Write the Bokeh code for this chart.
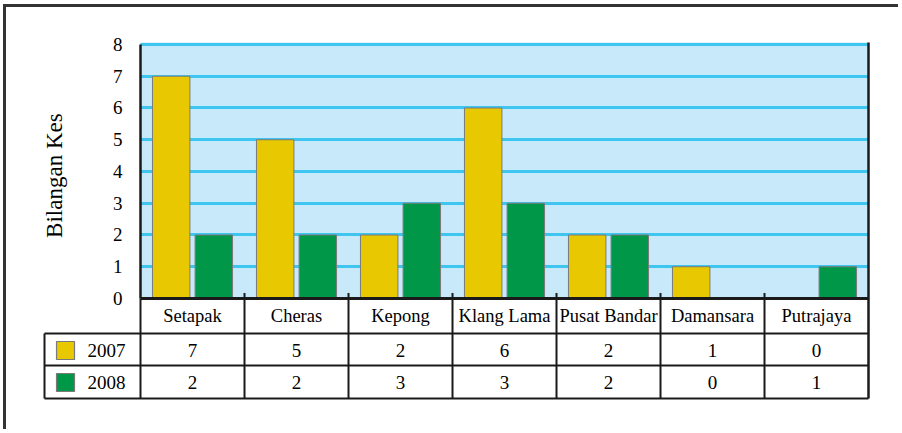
import math
from bokeh.plotting import figure
from bokeh.models import ColumnDataSource, Range1d, FixedTicker, BoxAnnotation
from bokeh.transform import dodge
from bokeh.core.properties import value
from bokeh.embed import file_html
from bokeh.resources import INLINE

# ---- data ----
categories = ["Setapak", "Cheras", "Kepong", "Klang Lama", "Pusat Bandar", "Damansara", "Putrajaya"]
years = ["2007", "2008"]
v2007 = [7, 5, 2, 6, 2, 1, 0]
v2008 = [2, 2, 3, 3, 2, 0, 1]
y_ticks = [0, 1, 2, 3, 4, 5, 6, 7, 8]
y_label = "Bilangan Kes"

YELLOW = "#E8C800"
GREEN = "#009848"
BG = "#C8E9F9"
GRID = "#3FC6F0"
FONT = "Liberation Serif"
LINE = "#1a1a1a"
OUTLINE = "#7a7a7a"

n = len(categories)
ymax = y_ticks[-1]
xc = [i + 0.5 for i in range(n)]
src = ColumnDataSource(dict(cat=categories, xc=xc, v2007=v2007, v2008=v2008))

# table rows (in y data units below the zero line)
ROW_CAT, ROW_07, ROW_08 = -0.567, -1.638, -2.661
LINE_A, LINE_B, LINE_C = -1.102, -2.110, -3.150
LEFT = -0.923
TOP = ymax + 0.063

p = figure(width=895, height=425,
           x_range=Range1d(-0.9423, n + 0.0192),
           y_range=Range1d(-3.213, 8.441),
           toolbar_location=None, output_backend="svg",
           min_border_left=36, min_border_right=31,
           min_border_top=23, min_border_bottom=32,
           styles={"border-left": "3px solid #333333",
                   "border-top": "3px solid #333333",
                   "margin-left": "3px", "margin-top": "4px"})
p.background_fill_color = "white"
p.border_fill_color = "white"
p.outline_line_color = None
p.xaxis.visible = False
p.xgrid.visible = False

# blue plotting area (drawn below the grid)
p.add_layout(BoxAnnotation(left=0, right=n, bottom=0, top=TOP,
                           fill_color=BG, fill_alpha=1, line_color=None, level="image"))

# horizontal grid restricted to the plotting area
g = p.ygrid[0]
g.ticker = FixedTicker(ticks=y_ticks[1:])
g.grid_line_color = GRID
g.grid_line_width = 3
g.level = "underlay"
if "cross_bounds" in g.properties():
    g.bounds = (y_ticks[1], ymax)
    g.cross_bounds = (0, n)
else:
    g.visible = False
    p.segment(x0=[0] * (len(y_ticks) - 1), x1=[n] * (len(y_ticks) - 1),
              y0=y_ticks[1:], y1=y_ticks[1:], line_color=GRID, line_width=3)

# y axis pinned at x = 0
ya = p.yaxis[0]
ya.fixed_location = 0
ya.ticker = FixedTicker(ticks=y_ticks)
ya.bounds = (0, ymax)
ya.major_tick_line_color = None
ya.minor_tick_line_color = None
ya.axis_line_color = LINE
ya.axis_line_width = 2.5
ya.major_label_standoff = 12
ya.major_label_text_font = FONT
ya.major_label_text_font_size = "19px"
ya.major_label_text_color = "black"

# axis title
p.text(x=[-0.827], y=[3.87], text=[y_label], angle=math.pi / 2,
       text_font=value(FONT), text_font_size="23px", text_align="center",
       text_baseline="middle", text_color="black")

# bars
p.vbar(x=dodge("xc", -0.205), top="v2007", width=0.36, source=src,
       fill_color=YELLOW, line_color=OUTLINE, line_width=1)
p.vbar(x=dodge("xc", 0.205), top="v2008", width=0.36, source=src,
       fill_color=GREEN, line_color=OUTLINE, line_width=1)

# table lines
p.segment(x0=[0], x1=[n], y0=[0], y1=[0], line_color=LINE, line_width=3)          # zero line
p.segment(x0=[n], x1=[n], y0=[LINE_C], y1=[TOP], line_color=LINE, line_width=2.5)
p.segment(x0=[0], x1=[0], y0=[LINE_C], y1=[0], line_color=LINE, line_width=2)
p.segment(x0=list(range(1, n)), x1=list(range(1, n)), y0=[LINE_C] * (n - 1), y1=[0.17] * (n - 1),
          line_color=LINE, line_width=2)
p.segment(x0=[LEFT] * 3, x1=[n] * 3, y0=[LINE_A, LINE_B, LINE_C], y1=[LINE_A, LINE_B, LINE_C],
          line_color=LINE, line_width=2)
p.segment(x0=[LEFT], x1=[LEFT], y0=[LINE_A], y1=[LINE_C], line_color=LINE, line_width=2)

# table texts
p.text(x=xc, y=[ROW_CAT] * n, text=categories, text_font=value(FONT),
       text_font_size="18.5px", text_align="center", text_baseline="middle", text_color="black")
p.text(x=xc, y=[ROW_07] * n, text=[str(v) for v in v2007], text_font=value(FONT),
       text_font_size="19px", text_align="center", text_baseline="middle", text_color="black")
p.text(x=xc, y=[ROW_08] * n, text=[str(v) for v in v2008], text_font=value(FONT),
       text_font_size="19px", text_align="center", text_baseline="middle", text_color="black")

# legend cells
p.rect(x=[-0.721, -0.721], y=[ROW_07, ROW_08 + 0.015], width=18, height=18,
       width_units="screen", height_units="screen",
       fill_color=[YELLOW, GREEN], line_color=OUTLINE, line_width=1.2)
p.text(x=[-0.327, -0.327], y=[ROW_07, ROW_08], text=years, text_font=value(FONT),
       text_font_size="19px", text_align="center", text_baseline="middle", text_color="black")

open("out.html", "w").write(file_html(p, INLINE))
